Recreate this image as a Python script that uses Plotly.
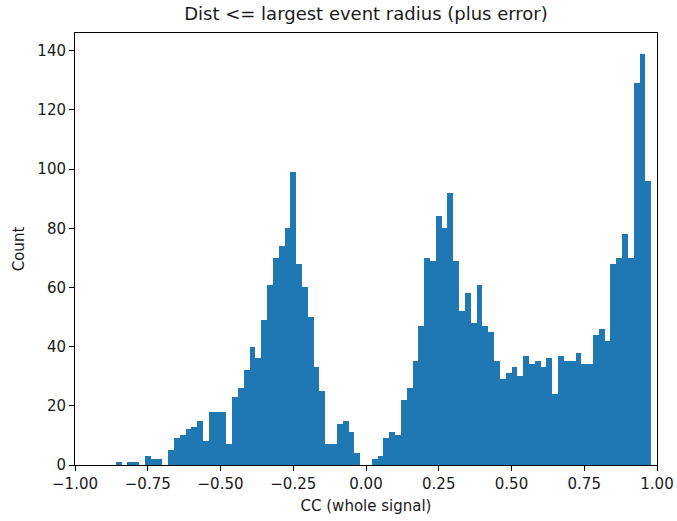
import plotly.graph_objects as go

# Histogram bins: width 0.02, left edges from -0.86 to 0.96
bin_width = 0.02
first_left_edge = -0.86
counts = [
    1, 0, 1, 1, 0, 3, 2, 2, 0, 5,          # -0.86 .. -0.68
    9, 10, 12, 13, 15, 8, 18, 18, 18, 7,   # -0.66 .. -0.48
    23, 26, 32, 40, 36, 49, 61, 70, 74, 80,  # -0.46 .. -0.28
    99, 68, 60, 50, 33, 25, 7, 7, 14, 15,  # -0.26 .. -0.08
    11, 4, 0, 0, 2, 3, 9, 11, 10, 22,      # -0.06 .. 0.12
    26, 35, 47, 70, 69, 84, 80, 92, 69, 52,  # 0.14 .. 0.32
    58, 48, 61, 47, 45, 35, 29, 31, 33, 30,  # 0.34 .. 0.52
    37, 34, 35, 33, 36, 24, 37, 35, 35, 38,  # 0.54 .. 0.72
    34, 34, 44, 46, 42, 68, 70, 78, 70, 129,  # 0.74 .. 0.92
    139, 96,                               # 0.94 .. 0.96
]
left_edges = [round(first_left_edge + i * bin_width, 2) for i in range(len(counts))]
centers = [e + bin_width / 2 for e in left_edges]

x_tick_vals = [-1.0, -0.75, -0.5, -0.25, 0.0, 0.25, 0.5, 0.75, 1.0]
x_tick_text = ["\u22121.00", "\u22120.75", "\u22120.50", "\u22120.25", "0.00", "0.25", "0.50", "0.75", "1.00"]
y_tick_vals = [0, 20, 40, 60, 80, 100, 120, 140]

fig = go.Figure()
fig.add_trace(go.Bar(
    x=centers, y=counts, width=bin_width,
    marker=dict(color="#1f77b4", line=dict(width=0)),
    hoverinfo="x+y",
))

font_family = "DejaVu Sans"
axis_common = dict(
    showgrid=False, zeroline=False, showline=True, linecolor="black", linewidth=1,
    mirror=True, ticks="outside", ticklen=5, tickwidth=1, tickcolor="black",
    tickfont=dict(family=font_family, size=15, color="#1a1a1a"),
    automargin=False,
)

fig.update_layout(
    width=677, height=521,
    margin=dict(l=75, r=20, t=33, b=56),
    paper_bgcolor="white", plot_bgcolor="white",
    bargap=0,
    showlegend=False,
    title=dict(
        text="Dist <= largest event radius (plus error)",
        x=0.5, xref="paper", xanchor="center",
        y=1 - 14 / 521, yref="container", yanchor="middle",
        font=dict(family=font_family, size=18, color="#1a1a1a"),
    ),
    xaxis=dict(
        range=[-1, 1], tickvals=x_tick_vals, ticktext=x_tick_text,
        title=dict(text="CC (whole signal)", standoff=8,
                   font=dict(family=font_family, size=15, color="#1a1a1a")),
        **axis_common,
    ),
    yaxis=dict(
        range=[0, 146.0], tickvals=y_tick_vals,
        title=dict(text="Count", standoff=9,
                   font=dict(family=font_family, size=15, color="#1a1a1a")),
        **axis_common,
    ),
)

fig.write_html("out.html")
